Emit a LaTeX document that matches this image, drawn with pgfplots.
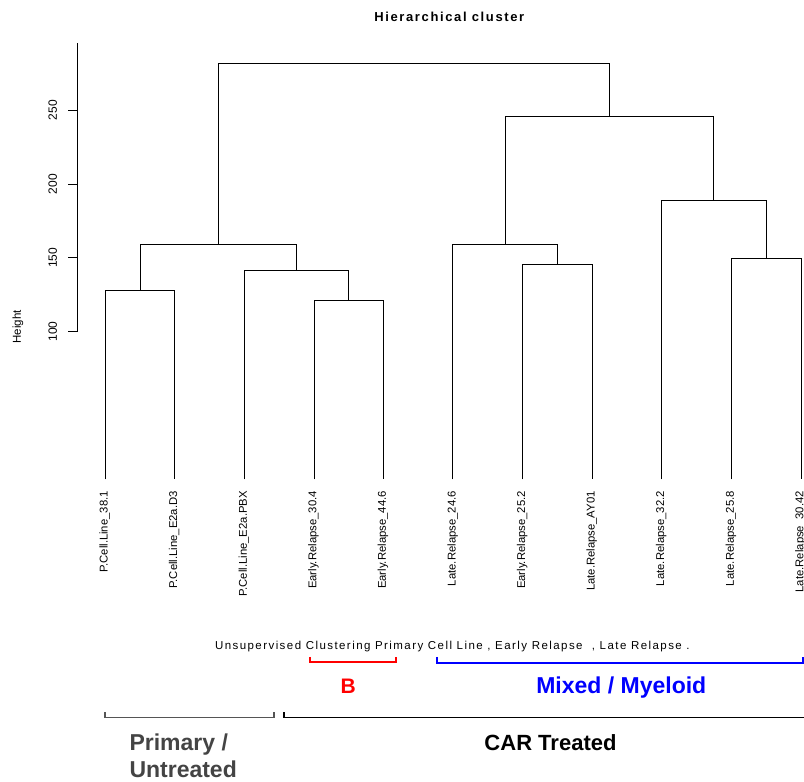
\documentclass[border=0pt]{standalone}
\usepackage{pgfplots}
\pgfplotsset{compat=1.18}
\usepackage{fontspec}
\setmainfont{Liberation Sans}
\newfontfamily\spaced[LetterSpace=12.5]{Liberation Sans}
\definecolor{dkgray}{HTML}{444444}
\definecolor{brgray}{HTML}{555555}
\begin{document}
\begin{tikzpicture}
\begin{axis}[
  scale only axis,
  width=726.7pt, height=782pt,
  xmin=0.6018, xmax=11.047,
  ymin=-205.1, ymax=324.7,
  axis line style={draw=none},
  xtick={1,2,3,4,5,6,7,8,9,10,11},
  xticklabels={P.Cell.Line\_38.1, P.Cell.Line\_E2a.D3, P.Cell.Line\_E2a.PBX,
    Early.Relapse\_30.4, Early.Relapse\_44.6, Late.Relapse\_24.6,
    Early.Relapse\_25.2, Late.Relapse\_AY01, Late.Relapse\_32.2,
    Late.Relapse\_25.8, Late.Relapse\_30.42},
  xtick pos=lower,
  xticklabel style={rotate=90, anchor=mid east, inner sep=0pt, font=\fontsize{11.3}{13}\selectfont},
  xticklabel shift=-300pt,
  ytick={100,150,200,250},
  ytick pos=left,
  tick align=outside,
  major tick length=9pt,
  tick style={black, line width=0.8pt},
  yticklabel style={rotate=90, anchor=south, inner sep=0pt, font=\fontsize{12}{14}\selectfont},
  yticklabel shift=11pt,
  /pgf/number format/assume math mode=true,
  clip=false,
  no markers,
  cycle list={{black, solid, line width=0.9pt}},
]
% dendrogram merges
\addplot coordinates {(1,0) (1,127.8) (2,127.8) (2,0)};
\addplot coordinates {(4,0) (4,121.3) (5,121.3) (5,0)};
\addplot coordinates {(3,0) (3,141.8) (4.5,141.8) (4.5,121.3)};
\addplot coordinates {(1.5,127.8) (1.5,159.2) (3.75,159.2) (3.75,141.8)};
\addplot coordinates {(7,0) (7,145.7) (8,145.7) (8,0)};
\addplot coordinates {(6,0) (6,158.9) (7.5,158.9) (7.5,145.7)};
\addplot coordinates {(10,0) (10,149.5) (11,149.5) (11,0)};
\addplot coordinates {(9,0) (9,189.4) (10.5,189.4) (10.5,149.5)};
\addplot coordinates {(6.75,158.9) (6.75,245.5) (9.75,245.5) (9.75,189.4)};
\addplot coordinates {(2.625,159.2) (2.625,281.8) (8.25,281.8) (8.25,245.5)};
% y axis line (R style, partial)
\draw[black, line width=0.8pt] (axis cs:0.6018,100) -- (axis cs:0.6018,295.6);
\end{axis}
\pgfresetboundingbox
\path[use as bounding box] (-77.3pt,0pt) rectangle (726.7pt,782pt);
\begin{scope}[x=1pt, y=-1pt, shift={(-77.3pt,782pt)}]
  \node[anchor=base, font=\spaced\bfseries\fontsize{13}{15}\selectfont] at (449.3,21.7) {Hierarchical cluster};
  \node[rotate=90, font=\fontsize{11.5}{13}\selectfont] at (18,327) {Height};
  \node[anchor=base, font=\spaced\fontsize{11.5}{13}\selectfont] at (452.4,650) {Unsupervised Clustering Primary Cell Line , Early Relapse\ \ , Late Relapse .};
  \draw[red, line width=1.8pt] (310,657) -- (310,662.3) -- (396,662.3) -- (396,657);
  \draw[blue, line width=1.8pt] (437,657) -- (437,662.7) -- (803,662.7) -- (803,657);
  \draw[brgray, line width=1.8pt] (105,712.5) -- (105,717.5) -- (274,717.5) -- (274,712.5);
  \draw[black, line width=1.8pt] (284,712.5) -- (284,717.5) -- (810,717.5);
  \node[anchor=base, text=red, font=\bfseries\fontsize{21}{24}\selectfont] at (348.3,694) {B};
  \node[anchor=base, text=blue, font=\bfseries\fontsize{23}{26}\selectfont] at (621.3,694) {Mixed / Myeloid};
  \node[anchor=base, text=black, font=\bfseries\fontsize{22}{25}\selectfont] at (550.5,750.7) {CAR Treated};
  \node[anchor=base west, inner sep=0pt, text=dkgray, font=\bfseries\fontsize{23}{26}\selectfont] at (129.3,751) {Primary /};
  \node[anchor=base west, inner sep=0pt, text=dkgray, font=\bfseries\fontsize{23}{26}\selectfont] at (129.3,777.3) {Untreated};
\end{scope}
\end{tikzpicture}
\end{document}
